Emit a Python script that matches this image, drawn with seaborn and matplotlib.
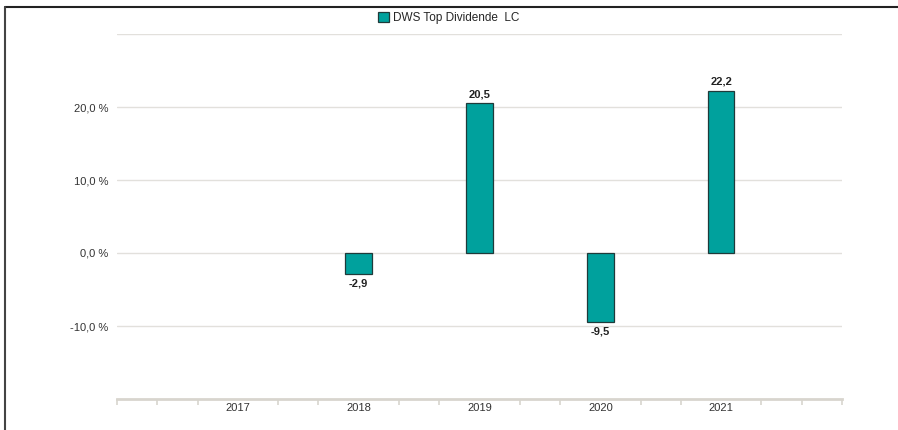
import numpy as np
import pandas as pd
import seaborn as sns
import matplotlib.pyplot as plt
from matplotlib.patches import Patch
from matplotlib.lines import Line2D

# data
years = ["2017", "2018", "2019", "2020", "2021"]
bar_years = ["2018", "2019", "2020", "2021"]
returns = [-2.9, 20.5, -9.5, 22.2]
y_ticks = [-10, 0, 10, 20]
series_name = "DWS Top Dividende  LC"

BAR_COLOR = "#00A19D"
EDGE_COLOR = "#1F3A3A"
GRID_COLOR = "#E2E0DC"
AXIS_COLOR = "#D8D5CE"

df = pd.DataFrame({"year": bar_years, "value": returns})

sns.set_theme(style="white")
plt.rcParams["font.family"] = ["Liberation Sans", "DejaVu Sans"]

W, H = 898, 430
fig = plt.figure(figsize=(W / 100, H / 100), dpi=100)
ax = fig.add_axes([117 / W, (H - 399) / H, (842 - 117) / W, (399 - 34) / H])

sns.barplot(data=df, x="year", y="value", order=years, color=BAR_COLOR,
            width=0.22, edgecolor=EDGE_COLOR, linewidth=0.9, saturation=1,
            errorbar=None, ax=ax, zorder=3)

ax.set_xlim(-1, len(years))
ax.set_ylim(-20, 30)

# gridlines
for y in y_ticks + [30]:
    ax.axhline(y, color=GRID_COLOR, linewidth=1.0, zorder=1)

ax.set_yticks(y_ticks)
ax.set_yticklabels([f"{v:.1f} %".replace(".", ",") for v in y_ticks],
                   fontsize=8, color="#333333")
ax.tick_params(axis="y", length=0, pad=6)

# x axis: labels at categories, small ticks at thirds
ax.set_xticks(range(len(years)))
ax.set_xticklabels(years, fontsize=8, color="#333333")
ax.tick_params(axis="x", which="major", length=0, pad=3)
minor = [-1 + k / 3 for k in range(3 * (len(years) + 1) + 1)]
minor = [m for m in minor if abs(m - round(m)) > 1e-6 or round(m) in (-1, len(years))]
ax.set_xticks(minor, minor=True)
ax.tick_params(axis="x", which="minor", length=4, width=1.2, color=AXIS_COLOR,
               direction="out", bottom=True)

for s in ["top", "right", "left"]:
    ax.spines[s].set_visible(False)
ax.spines["bottom"].set_color(AXIS_COLOR)
ax.spines["bottom"].set_linewidth(2)
ax.set_xlabel("")
ax.set_ylabel("")

# value labels
for yr, v in zip(bar_years, returns):
    xpos = years.index(yr)
    label = f"{v:.1f}".replace(".", ",")
    if v >= 0:
        ax.annotate(label, (xpos, v), xytext=(0, 3), textcoords="offset points",
                    ha="center", va="bottom", fontsize=8, fontweight="bold",
                    color="#222222")
    else:
        ax.annotate(label, (xpos, v), xytext=(0, -3), textcoords="offset points",
                    ha="center", va="top", fontsize=8, fontweight="bold",
                    color="#222222")

# legend
handle = Patch(facecolor=BAR_COLOR, edgecolor=EDGE_COLOR, linewidth=0.9)
fig.legend([handle], [series_name], loc="center", bbox_to_anchor=(0.5, 1 - 18 / H),
           frameon=False, fontsize=8.5, handlelength=0.9, handleheight=0.9,
           handletextpad=0.4)

# frame lines on top and left
fig.add_artist(Line2D([5 / W, 1], [1 - 7 / H, 1 - 7 / H], color="#222222", linewidth=1.5))
fig.add_artist(Line2D([5 / W, 5 / W], [0, 1 - 7 / H], color="#444444", linewidth=1.5))

fig.savefig("out.png", dpi=100, facecolor="white")
